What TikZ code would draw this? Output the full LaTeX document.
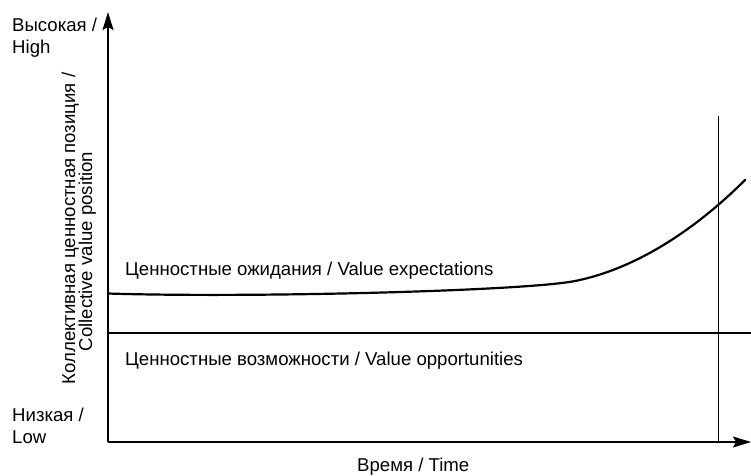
\documentclass[tikz,border=0pt]{standalone}
\usepackage{fontspec}
\setmainfont{Liberation Sans}
\usetikzlibrary{arrows.meta}
\begin{document}
\begin{tikzpicture}[x=1pt,y=-1pt,
  lbl/.style={font=\fontsize{18.6}{22}\selectfont, inner sep=0pt, anchor=base west},
  axisline/.style={line width=1.6pt},
  tipstyle/.style={-{Stealth[length=18pt,width=11pt,inset=3pt]}}]
\useasboundingbox (0,0) rectangle (751,475);
\coordinate (O) at (108,442);
\coordinate (Ytop) at (108,12);
\coordinate (Xend) at (751,442);
\coordinate (Vtop) at (718,116);
\coordinate (Vbot) at (718,442);
\coordinate (Hl) at (108,333);
\coordinate (Hr) at (751,333);
\coordinate (C0) at (108,293.5);
\coordinate (C1) at (575,281);
\coordinate (C2) at (745,180);
% vertical time marker
\draw[line width=1pt] (Vtop) -- (Vbot);
% value opportunities line
\draw[line width=1.9pt] (Hl) -- (Hr);
% axes
\draw[axisline,tipstyle] (O) -- (Ytop);
\draw[axisline,tipstyle] (O) -- (Xend);
% value expectations curve
\draw[line width=2.2pt,line cap=round] (C0) .. controls (250,298) and (525,291) .. (C1)
  .. controls (640,268) and (700,225) .. (C2);
% labels
\node[lbl] (high1) at (12,31) {Высокая /};
\node[lbl] (high2) at (12,53) {High};
\node[lbl] (low1) at (12,421.5) {Низкая /};
\node[lbl] (low2) at (12,443) {Low};
\node[lbl,anchor=base,rotate=90] (yl1) at (75,228.5) {Коллективная ценностная позиция /};
\node[lbl,anchor=base,rotate=90] (yl2) at (92,251.5) {Collective value position};
\node[lbl] (exp) at (125,275.5) {Ценностные ожидания / Value expectations};
\node[lbl] (opp) at (125,365) {Ценностные возможности / Value opportunities};
\node[lbl] (time) at (357,471.5) {Время / Time};
\end{tikzpicture}
\end{document}
